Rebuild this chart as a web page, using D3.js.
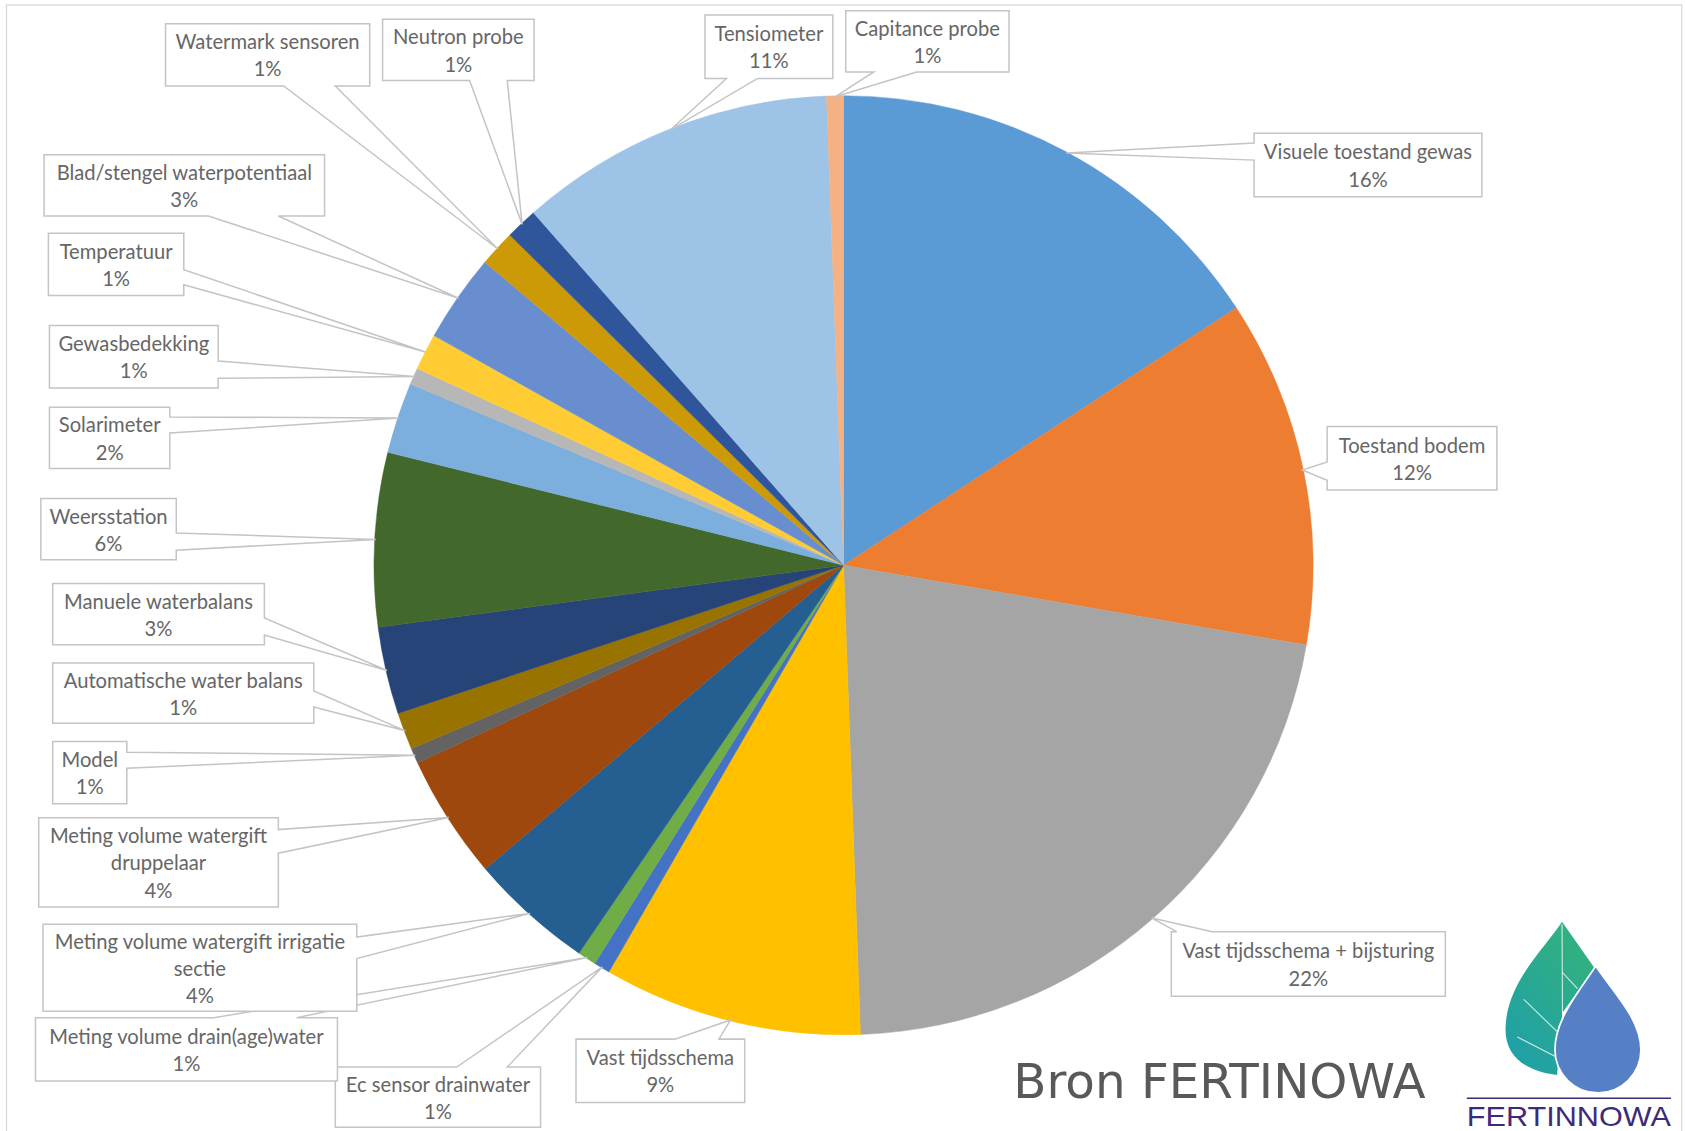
<!DOCTYPE html>
<html>
<head>
<meta charset="utf-8">
<script src="https://cdn.jsdelivr.net/npm/d3@7"></script>
<style>
  html, body { margin: 0; padding: 0; background: #ffffff; }
  svg { display: block; }
</style>
</head>
<body>
<script>
// ---------------- DATA ----------------
const categories = [
  "Visuele toestand gewas", "Toestand bodem", "Vast tijdsschema + bijsturing",
  "Vast tijdsschema", "Ec sensor drainwater", "Meting volume drain(age)water",
  "Meting volume watergift irrigatie sectie", "Meting volume watergift druppelaar",
  "Model", "Automatische water balans", "Manuele waterbalans", "Weersstation",
  "Solarimeter", "Gewasbedekking", "Temperatuur", "Blad/stengel waterpotentiaal",
  "Watermark sensoren", "Neutron probe", "Tensiometer", "Capitance probe"
];
const values = [15.76, 11.95, 21.7, 8.9, 0.56, 0.64, 4.28, 4.28, 0.52, 1.28,
                3.0, 5.97, 2.44, 0.58, 1.25, 3.03, 1.25, 1.1, 10.9, 0.58];
const colors = ["#5B9BD5", "#ED7D31", "#A5A5A5", "#FFC000", "#4472C4", "#70AD47",
                "#255E91", "#9E480E", "#636363", "#997300", "#264478", "#43682B",
                "#7CAFDD", "#B7B7B7", "#FFCD33", "#698ED0", "#CC9A06", "#2F559B",
                "#9DC3E6", "#F4B183"];
const sourceText = "Bron FERTINOWA";
const logoText = "FERTINNOWA";

// ---------------- LAYOUT (callout boxes: x0,y0,x1,y1, side, base a, base b, words on line 1) ----------------
const labelLayout = [
  [1167,124,1379,183,"left",133,149,0],
  [1235,397,1393,456,"left",430,447,0],
  [1090,867,1345,927,"top",1095,1128,0],
  [536,967,693,1026,"top",628,669,0],
  [312,993,503,1049,"top",425,472,0],
  [33,947,314,1006,"top",199,276,0],
  [40,860,332,941,"right",872,892,4],
  [36,761,259,844,"right",772,794,3],
  [49,690,118,748,"right",700,715,0],
  [49,617,292,673,"right",643,658,0],
  [49,543,246,600,"right",575,591,0],
  [38,464,164,521,"right",496,512,0],
  [46,379,158,436,"right",388,403,0],
  [46,303,203,361,"right",336,352,0],
  [45,217,171,275,"right",251,265,0],
  [41,144,302,201,"bottom",194,259,0],
  [154,22,344,80,"bottom",264,312,0],
  [356,18,497,75,"bottom",437,472,0],
  [656,14,775,73,"bottom",676,705,0],
  [787,10,939,67,"bottom",813,853,0]
];

const W = 1568, H = 1052.5;
const cx = 785, cy = 526, R = 437;

const svg = d3.select("body").append("svg")
  .attr("width", 1685).attr("height", 1131)
  .attr("viewBox", `0 0 ${W} ${H}`);

// frame
svg.append("rect").attr("x", 6).attr("y", 4.6).attr("width", 1559).attr("height", 1080)
  .attr("fill", "none").attr("stroke", "#d9d9d9").attr("stroke-width", 1.2);

// pie
const pie = d3.pie().sort(null).value(d => d).startAngle(0).endAngle(2 * Math.PI);
const arcs = pie(values);
const arc = d3.arc().innerRadius(0).outerRadius(R);
const g = svg.append("g").attr("transform", `translate(${cx},${cy})`);
g.selectAll("path.slice").data(arcs).join("path")
  .attr("class", "slice")
  .attr("d", arc)
  .attr("fill", (d, i) => colors[i])
  .attr("stroke", (d, i) => colors[i])
  .attr("stroke-width", 0.4);

// callouts
const total = d3.sum(values);
const pctFmt = v => Math.round(v / total * 100) + "%";
const lab = svg.append("g").attr("class", "labels");

arcs.forEach((a, i) => {
  const [x0, y0, x1, y1, side, pa, pb, split] = labelLayout[i];
  const mid = (a.startAngle + a.endAngle) / 2;
  const tx = cx + (R - 1) * Math.sin(mid), ty = cy - (R - 1) * Math.cos(mid);
  let p;
  if (side === "bottom") p = `M${x0},${y0}L${x1},${y0}L${x1},${y1}L${pb},${y1}L${tx},${ty}L${pa},${y1}L${x0},${y1}Z`;
  else if (side === "top") p = `M${x0},${y0}L${pa},${y0}L${tx},${ty}L${pb},${y0}L${x1},${y0}L${x1},${y1}L${x0},${y1}Z`;
  else if (side === "left") p = `M${x0},${y0}L${x1},${y0}L${x1},${y1}L${x0},${y1}L${x0},${pb}L${tx},${ty}L${x0},${pa}Z`;
  else p = `M${x0},${y0}L${x1},${y0}L${x1},${pa}L${tx},${ty}L${x1},${pb}L${x1},${y1}L${x0},${y1}Z`;
  const cg = lab.append("g");
  cg.append("path").attr("d", p).attr("fill", "#ffffff")
    .attr("stroke", "#c4c4c4").attr("stroke-width", 1.4).attr("stroke-linejoin", "miter");
  const words = categories[i].split(" ");
  const lines = split ? [words.slice(0, split).join(" "), words.slice(split).join(" "), pctFmt(values[i])]
                      : [categories[i], pctFmt(values[i])];
  const lh = 25.3;
  const mx = (x0 + x1) / 2, my = (y0 + y1) / 2;
  const t = cg.append("text").attr("text-anchor", "middle")
    .attr("font-family", "Lato, 'Open Sans', sans-serif").attr("font-size", 18.8)
    .attr("fill", "#666666");
  lines.forEach((ln, k) => {
    t.append("tspan").attr("x", mx)
      .attr("y", my + (k - (lines.length - 1) / 2) * lh + 7.5)
      .text(ln);
  });
});

// source text
svg.append("text").attr("x", 943).attr("y", 1022)
  .attr("font-family", "'DejaVu Sans', Verdana, sans-serif").attr("font-size", 45)
  .attr("fill", "#595959").text(sourceText);

// logo
const defs = svg.append("defs");
const grad = defs.append("linearGradient").attr("id", "leafGrad")
  .attr("x1", "80%").attr("y1", "0%").attr("x2", "10%").attr("y2", "100%");
grad.append("stop").attr("offset", "0%").attr("stop-color", "#33B27C");
grad.append("stop").attr("offset", "100%").attr("stop-color", "#1E9FAA");
const logo = svg.append("g");
logo.append("path")
  .attr("d", "M1453.6,857.7 C1438,882 1401,915 1401,958 C1401,985 1422,997 1449,1000.4 L1453.8,942.7 L1484,901 Z")
  .attr("fill", "url(#leafGrad)");
// leaf veins
logo.append("path").attr("d", "M1453.6,860 L1454,943 M1449,960 L1418,930 M1451,985 L1412,965 M1454,905 L1468,920")
  .attr("stroke", "#ffffff").attr("stroke-width", 1).attr("fill", "none").attr("opacity", 0.8);
// drop
logo.append("path")
  .attr("d", "M1485,899 C1470,922 1447,948 1447,977 A40,40 0 0,0 1527,977 C1527,948 1500,922 1485,899 Z")
  .attr("fill", "#5580C6").attr("stroke", "#ffffff").attr("stroke-width", 1.6);
logo.append("line").attr("x1", 1365).attr("x2", 1555).attr("y1", 1022).attr("y2", 1022)
  .attr("stroke", "#3D2B7A").attr("stroke-width", 1.4);
logo.append("text").attr("x", 1365).attr("y", 1048).attr("textLength", 190)
  .attr("lengthAdjust", "spacingAndGlyphs")
  .attr("font-family", "'Liberation Sans', sans-serif").attr("font-size", 26)
  .attr("fill", "#3D2B7A").text(logoText);
</script>
</body>
</html>
